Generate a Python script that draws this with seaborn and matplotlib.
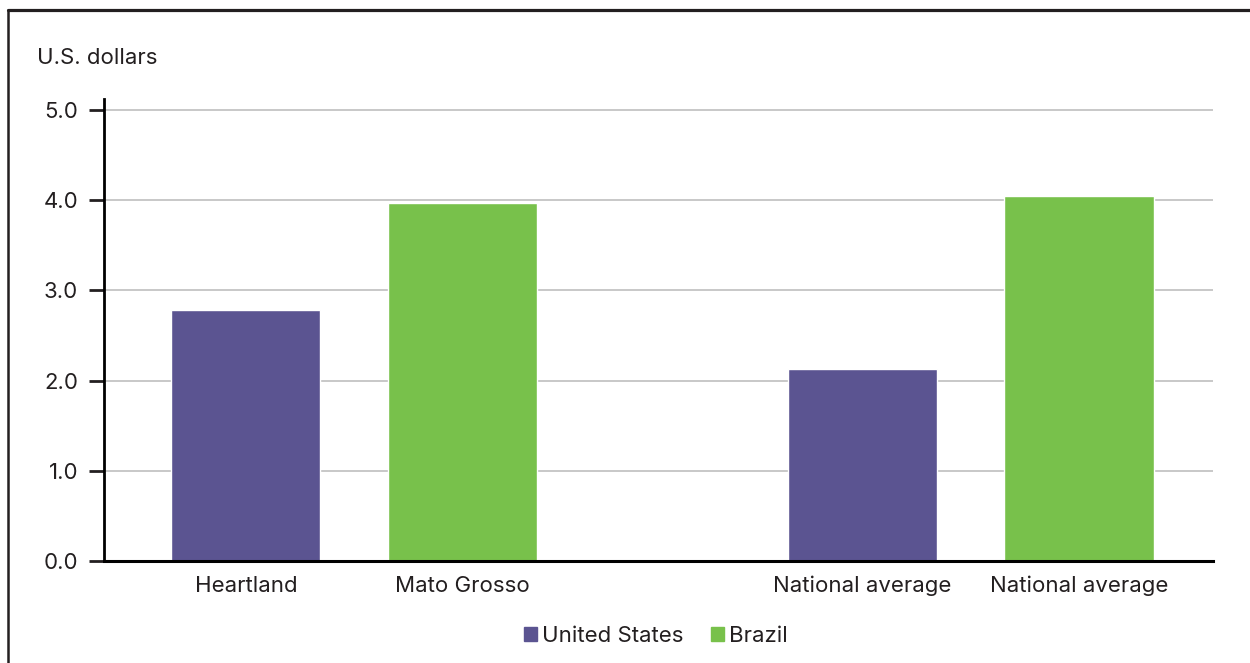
import matplotlib
matplotlib.use("Agg")
import matplotlib.pyplot as plt
from matplotlib.lines import Line2D
import seaborn as sns
import pandas as pd

# Cost data (U.S. dollars)
regions = ["Heartland", "Mato Grosso", "National average", "National average"]
countries = ["United States", "Brazil", "United States", "Brazil"]
comparison = ["Regional", "Regional", "National", "National"]
values = [2.78, 3.97, 2.13, 4.05]

country_order = ["United States", "Brazil"]
palette = {"United States": "#5B5491", "Brazil": "#78C14B"}
text_color = "#231F20"
FS = 16

df = pd.DataFrame({"region": regions, "country": countries,
                   "comparison": comparison, "value": values})

sns.set_theme(style="white")
plt.rcParams["font.family"] = ["Inter", "DejaVu Sans"]
plt.rcParams["text.color"] = text_color
plt.rcParams["axes.labelcolor"] = text_color
plt.rcParams["xtick.color"] = text_color
plt.rcParams["ytick.color"] = text_color

W, H, DPI = 1250, 663, 100
fig = plt.figure(figsize=(W / DPI, H / DPI), dpi=DPI)
ax = fig.add_axes([104 / W, 1 - 560.7 / H, (1213 - 104) / W, (560.7 - 99.5) / H])

sns.barplot(data=df, x="comparison", y="value", hue="country",
            order=["Regional", "National"], hue_order=country_order,
            palette=palette, width=0.702, gap=0.31, saturation=1,
            ax=ax, legend=False)

ax.set_xlim(-0.4055, 1.393)
ax.set_ylim(0, 5.12)
ax.set_yticks([0, 1, 2, 3, 4, 5])
ax.set_yticklabels([f"{v:.1f}" for v in [0, 1, 2, 3, 4, 5]], fontsize=FS)
ax.set_xlabel("")
ax.set_ylabel("")

# one tick label under each bar, taken from the bar it belongs to
tick_pos, tick_lab = [], []
for country, container in zip(country_order, ax.containers):
    for comp, bar in zip(["Regional", "National"], container):
        row = df[(df.country == country) & (df.comparison == comp)].iloc[0]
        tick_pos.append(bar.get_x() + bar.get_width() / 2)
        tick_lab.append(row.region)
order = sorted(range(len(tick_pos)), key=lambda i: tick_pos[i])
ax.set_xticks([tick_pos[i] for i in order])
ax.set_xticklabels([tick_lab[i] for i in order], fontsize=FS)
ax.tick_params(axis="x", length=0, pad=11)
ax.tick_params(axis="y", length=10.5, width=2, pad=8, direction="out", left=True)

ax.grid(axis="y", color="#C8C8C8", linewidth=1.4)
ax.set_axisbelow(True)
for side in ["top", "right"]:
    ax.spines[side].set_visible(False)
ax.spines["left"].set_color("black")
ax.spines["left"].set_linewidth(2)
ax.spines["bottom"].set_color("black")
ax.spines["bottom"].set_linewidth(2.2)

# legend with square swatches
handles = [plt.Rectangle((0, 0), 1, 1, color=palette[c]) for c in country_order]
fig.legend(handles, country_order, loc="center", bbox_to_anchor=(656 / W, 1 - 636 / H),
           ncol=2, frameon=False, fontsize=FS, handlelength=0.59, handleheight=0.63,
           handletextpad=0.22, columnspacing=1.26)

fig.text(37 / W, 1 - 58 / H, "U.S. dollars", fontsize=FS, ha="left", va="center")

# outer frame
fig.add_artist(Line2D([8 / W, 1.0], [1 - 10 / H, 1 - 10 / H], color="#231F20",
                      linewidth=2.3, transform=fig.transFigure))
fig.add_artist(Line2D([8 / W, 8 / W], [0, 1 - 10 / H], color="#231F20",
                      linewidth=1.8, transform=fig.transFigure))

fig.savefig("out.png", dpi=DPI)
